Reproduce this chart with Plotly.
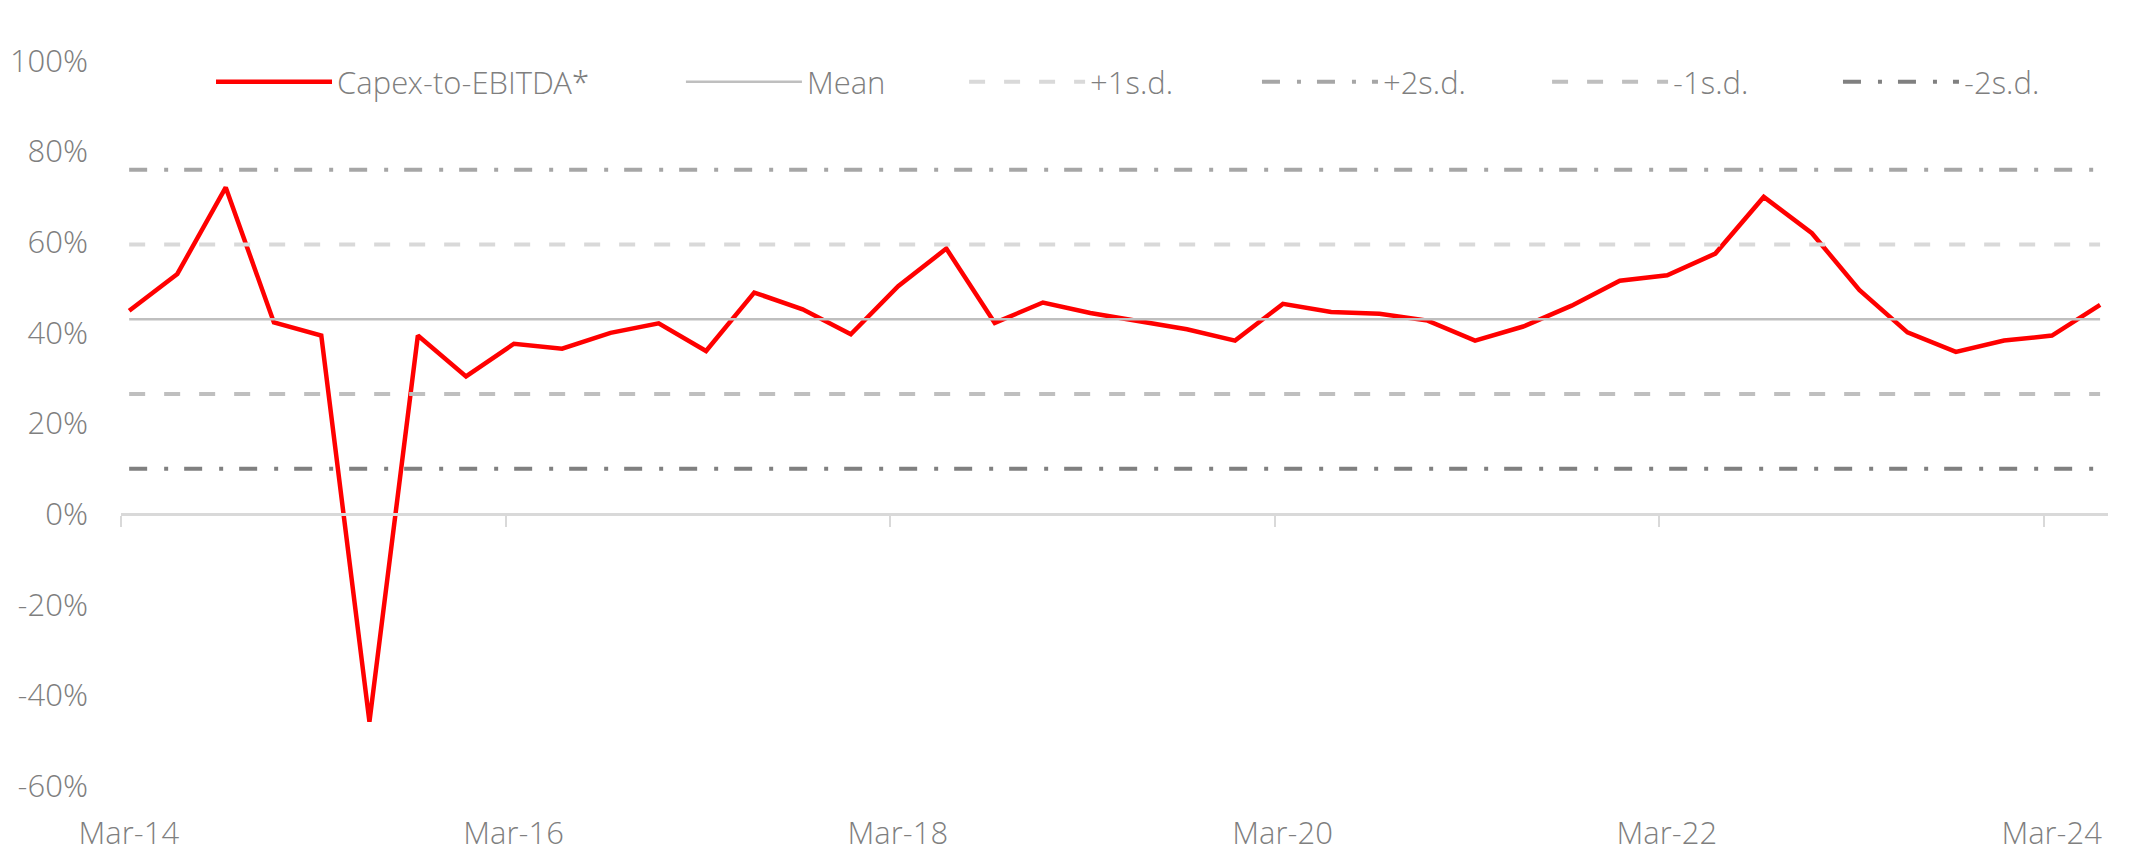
import plotly.graph_objects as go
import pandas as pd

# ---- data ----
quarters = [
    "2014-03-01", "2014-06-01", "2014-09-01", "2014-12-01",
    "2015-03-01", "2015-06-01", "2015-09-01", "2015-12-01",
    "2016-03-01", "2016-06-01", "2016-09-01", "2016-12-01",
    "2017-03-01", "2017-06-01", "2017-09-01", "2017-12-01",
    "2018-03-01", "2018-06-01", "2018-09-01", "2018-12-01",
    "2019-03-01", "2019-06-01", "2019-09-01", "2019-12-01",
    "2020-03-01", "2020-06-01", "2020-09-01", "2020-12-01",
    "2021-03-01", "2021-06-01", "2021-09-01", "2021-12-01",
    "2022-03-01", "2022-06-01", "2022-09-01", "2022-12-01",
    "2023-03-01", "2023-06-01", "2023-09-01", "2023-12-01",
    "2024-03-01", "2024-06-01",
]
capex_to_ebitda = [
    0.449, 0.530, 0.721, 0.423, 0.394, -0.458, 0.394, 0.304,
    0.376, 0.365, 0.400, 0.421, 0.360, 0.489, 0.452, 0.397,
    0.503, 0.586, 0.422, 0.467, 0.444, 0.425, 0.408, 0.383,
    0.464, 0.446, 0.442, 0.427, 0.383, 0.414, 0.460, 0.515,
    0.527, 0.575, 0.700, 0.620, 0.495, 0.401, 0.358, 0.383,
    0.394, 0.462,
]
mean_value = 0.430
plus_1sd = 0.595
plus_2sd = 0.760
minus_1sd = 0.265
minus_2sd = 0.100

tick_dates = ["2014-03-01", "2016-03-01", "2018-03-01", "2020-03-01", "2022-03-01", "2024-03-01"]
tick_labels = ["Mar-14", "Mar-16", "Mar-18", "Mar-20", "Mar-22", "Mar-24"]
y_tick_vals = [-0.6, -0.4, -0.2, 0.0, 0.2, 0.4, 0.6, 0.8, 1.0]
y_tick_labels = ["-60%", "-40%", "-20%", "0%", "20%", "40%", "60%", "80%", "100%"]

# ---- figure ----
FONT = "Open Sans Light, Lato Light, Open Sans, sans-serif"
GREY_TXT = "#7F7F7F"
FS = 31
n = len(quarters)

fig = go.Figure()

# legend anchor positions (paper x) for each series
legend_x = [0.0453, 0.2818, 0.4243, 0.5717, 0.7177, 0.8641]
legend_ids = ["legend", "legend2", "legend3", "legend4", "legend5", "legend6"]


def add_line(idx, name, yvals, color, width, dash="solid"):
    fig.add_trace(go.Scatter(
        x=quarters, y=yvals, name=name, mode="lines",
        line=dict(color=color, width=width, dash=dash),
        xperiod="M1", xperiodalignment="middle",
        hoverinfo="skip", legend=legend_ids[idx],
    ))


add_line(0, "Capex-to-EBITDA*", capex_to_ebitda, "#FF0000", 4.5)
add_line(1, "Mean", [mean_value] * n, "#BFBFBF", 2.5)
add_line(2, "+1s.d.", [plus_1sd] * n, "#D9D9D9", 4, "16px,19px")
add_line(3, "+2s.d.", [plus_2sd] * n, "#A6A6A6", 4, "18px,17px,4px,16px")
add_line(4, "-1s.d.", [minus_1sd] * n, "#BFBFBF", 4, "16px,19px")
add_line(5, "-2s.d.", [minus_2sd] * n, "#808080", 4, "18px,17px,4px,16px")

# invisible trace to activate the label axis
fig.add_trace(go.Scatter(x=[quarters[0]], y=[mean_value], xaxis="x2", mode="lines",
                         showlegend=False, hoverinfo="skip", line=dict(width=0)))

y_min, y_max = -0.6, 1.0
zero_pos = (0 - y_min) / (y_max - y_min)
label_vals = [(pd.Timestamp(d) + pd.Timedelta(days=15)).strftime("%Y-%m-%d") for d in tick_dates]

tf = dict(family=FONT, color=GREY_TXT, size=FS, weight=300)

layout_legends = {}
for lid, lx in zip(legend_ids, legend_x):
    layout_legends[lid] = dict(
        orientation="h", x=lx, xanchor="left", y=0.971, yanchor="middle",
        bgcolor="rgba(0,0,0,0)", itemwidth=116, font=tf,
    )

fig.update_layout(
    width=2119, height=848,
    paper_bgcolor="white", plot_bgcolor="white",
    margin=dict(l=113, r=19, t=53, b=70),
    font=tf,
    xaxis=dict(
        type="date", range=["2014-03-01", "2024-07-01"],
        anchor="free", position=zero_pos, automargin=False,
        showline=True, linecolor="#D9D9D9", linewidth=2.5,
        ticks="outside", ticklen=11, tickwidth=2, tickcolor="#D9D9D9",
        tickvals=tick_dates, showticklabels=False,
        showgrid=False, zeroline=False,
    ),
    xaxis2=dict(
        type="date", overlaying="x", matches="x", side="bottom", anchor="y",
        automargin=False,
        showline=False, ticks="", tickvals=label_vals, ticktext=tick_labels,
        tickfont=tf, ticklabelstandoff=26,
        showgrid=False, zeroline=False,
    ),
    yaxis=dict(
        range=[y_min, y_max], tickvals=y_tick_vals, ticktext=y_tick_labels,
        automargin=False,
        showline=False, showgrid=False, zeroline=False, ticks="",
        tickfont=tf, ticklabelstandoff=32,
    ),
    showlegend=True,
    **layout_legends,
)

fig.write_html("out.html")
